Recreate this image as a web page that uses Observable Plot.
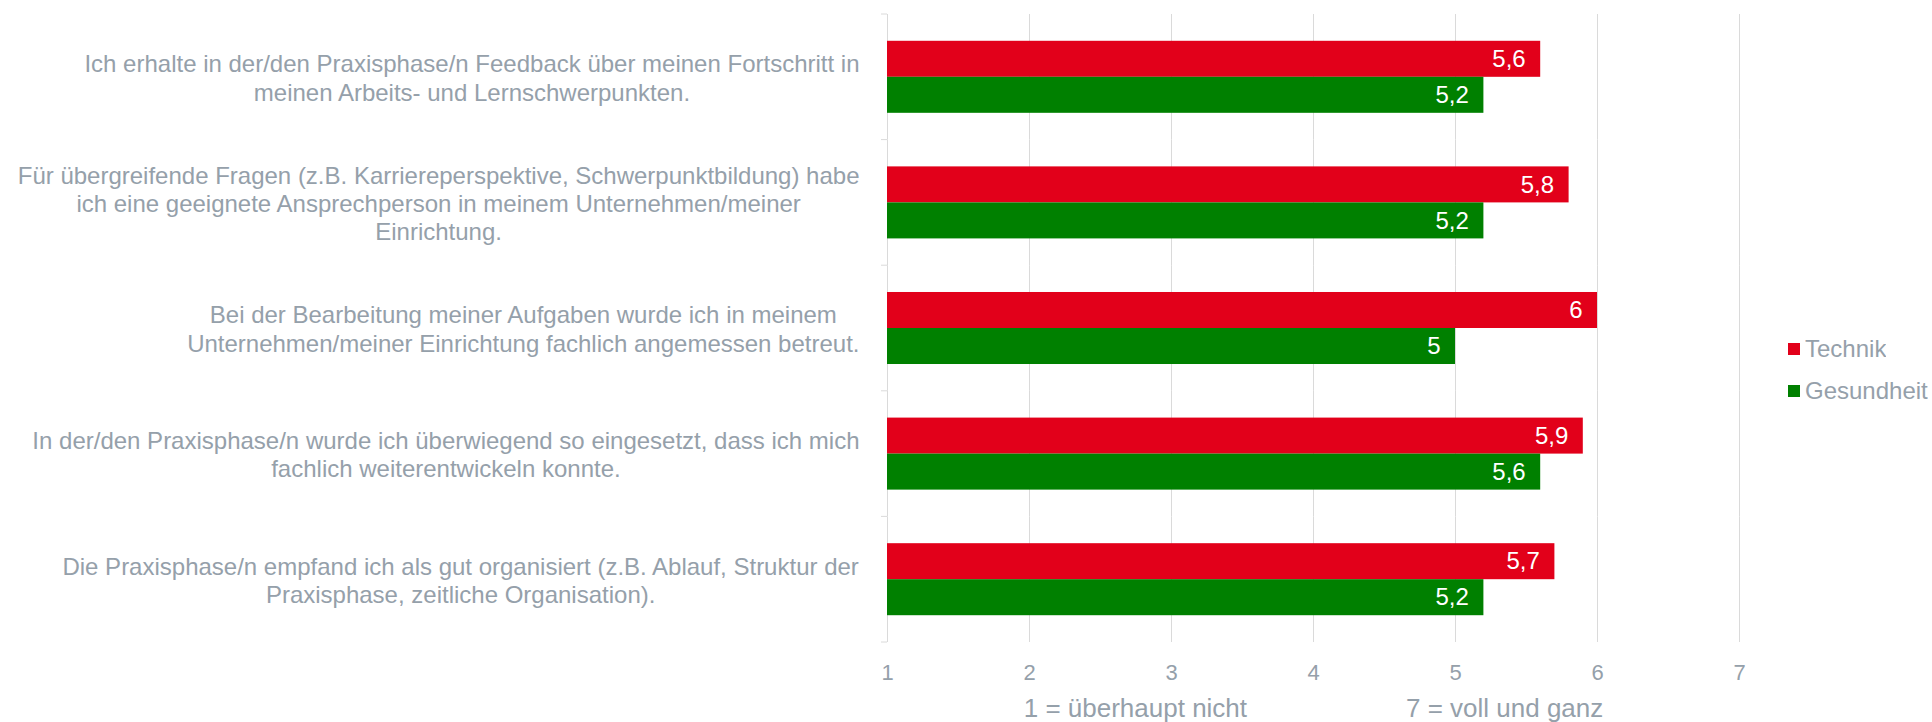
<!DOCTYPE html>
<html>
<head>
<meta charset="utf-8">
<script src="https://cdn.jsdelivr.net/npm/d3@7"></script>
<script src="https://cdn.jsdelivr.net/npm/@observablehq/plot@0.6"></script>
<style>
  html, body { margin: 0; padding: 0; background: #fff; }
  #wrap { position: relative; width: 1932px; height: 722px; overflow: hidden; }
  #legend { position: absolute; left: 1788px; top: 328px; }
  .lg-swatches { margin: 0 !important; }
  .lg-swatch { height: 42px; margin: 0 !important; padding: 0 !important; display: flex !important; align-items: center !important; }
  .lg-swatch > svg { margin-right: 5px !important; }
</style>
</head>
<body>
<div id="wrap"><div id="chart"></div><div id="legend"></div></div>
<script>
// ---- data ----
const categories = [
  "Ich erhalte in der/den Praxisphase/n Feedback über meinen Fortschritt in\nmeinen Arbeits- und Lernschwerpunkten.",
  "Für übergreifende Fragen (z.B. Karriereperspektive, Schwerpunktbildung) habe\nich eine geeignete Ansprechperson in meinem Unternehmen/meiner\nEinrichtung.",
  "Bei der Bearbeitung meiner Aufgaben wurde ich in meinem\nUnternehmen/meiner Einrichtung fachlich angemessen betreut.",
  "In der/den Praxisphase/n wurde ich überwiegend so eingesetzt, dass ich mich\nfachlich weiterentwickeln konnte.",
  "Die Praxisphase/n empfand ich als gut organisiert (z.B. Ablauf, Struktur der\nPraxisphase, zeitliche Organisation)."
];
const series = ["Technik", "Gesundheit"];
const technik = [5.6, 5.8, 6, 5.9, 5.7];
const gesundheit = [5.2, 5.2, 5.0, 5.6, 5.2];
const xTicks = [1, 2, 3, 4, 5, 6, 7];
const scaleLow = "1 = überhaupt nicht";
const scaleHigh = "7 = voll und ganz";

// ---- styling ----
const FONT = "'Liberation Sans', Arial, sans-serif";
const GRAY = "#95a0aa";
const GRID = "#dadada";
const colors = ["#e2001a", "#008000"];
const W = 1932, HT = 722, MT = 14, MB = 80, ML = 887, MR = 193;
const facetH = (HT - MT - MB) / categories.length;

const rows = [];
categories.forEach((c, i) => {
  rows.push({cat: c, series: series[0], value: technik[i]});
  rows.push({cat: c, series: series[1], value: gesundheit[i]});
});
const fmt = v => String(v).replace(".", ",");

const ctx = document.createElement("canvas").getContext("2d");
ctx.font = `24px ${FONT}`;
const labelMarks = categories.map(c => {
  const w = Math.max(...c.split("\n").map(l => ctx.measureText(l).width));
  return Plot.text([c], {
    fy: d => d, text: d => d, frameAnchor: "left", textAnchor: "middle", lineAnchor: "middle",
    dx: -28 - w / 2, fontSize: 24, lineHeight: 1.18, fill: GRAY
  });
});

const axisTitle = scaleLow + "\u00a0".repeat(22) + scaleHigh;

const chart = Plot.plot({
  width: W, height: HT,
  marginLeft: ML, marginRight: MR, marginTop: MT, marginBottom: MB,
  style: {fontFamily: FONT, fontSize: "22px", color: GRAY, background: "#fff"},
  x: {domain: [1, 7], axis: null},
  fy: {domain: categories, padding: 0, round: false, axis: null},
  y: {domain: series, paddingInner: 0, paddingOuter: 0.744, round: false, axis: null},
  color: {domain: series, range: colors},
  marks: [
    Plot.ruleX(xTicks, {x: d => d, stroke: GRID, strokeWidth: 1}),
    Plot.rect([0], {x1: () => 1, x2: () => 1, insetLeft: -6, fill: "none", stroke: GRID, strokeDasharray: "6 4000"}),
    Plot.rect([categories[categories.length - 1]], {fy: d => d, x1: () => 1, x2: () => 1, insetLeft: -6, fill: "none", stroke: GRID, strokeDasharray: `0 ${6 + facetH} 6 4000`}),
    Plot.barX(rows, {fy: "cat", y: "series", x1: () => 1, x2: "value", fill: "series"}),
    Plot.text(rows, {fy: "cat", y: "series", x: "value", text: d => fmt(d.value), textAnchor: "end", dx: -15, fill: "white", fontSize: 24}),
    ...labelMarks,
    Plot.axisX(xTicks, {tickSize: 0, tickPadding: 22, tickFormat: d => String(d), fontSize: 22, label: null, fill: GRAY}),
    Plot.text([axisTitle], {fy: () => categories[categories.length - 1], text: d => d, frameAnchor: "bottom", lineAnchor: "middle", dy: 66, fontSize: 26, fill: GRAY})
  ]
});
document.getElementById("chart").appendChild(chart);

const legend = Plot.legend({
  legend: "swatches",
  color: {domain: series, range: colors},
  columns: 1,
  swatchSize: 12,
  className: "lg",
  style: {fontSize: "24px", fontFamily: FONT, color: GRAY, margin: "0"}
});
document.getElementById("legend").appendChild(legend);
</script>
</body>
</html>
